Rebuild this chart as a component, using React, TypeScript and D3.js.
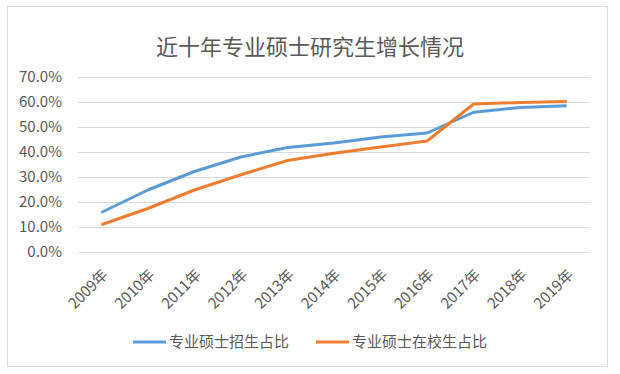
import React, { useEffect, useRef } from 'react';
import * as d3 from 'd3';

const TITLE = '近十年专业硕士研究生增长情况';
const years = ['2009年', '2010年', '2011年', '2012年', '2013年', '2014年', '2015年', '2016年', '2017年', '2018年', '2019年'];
const seriesNames = ['专业硕士招生占比', '专业硕士在校生占比'];
const enrollShare = [15.8, 24.8, 32.2, 38.0, 41.8, 43.6, 46.0, 47.6, 55.9, 57.8, 58.5];
const inSchoolShare = [10.9, 17.4, 24.8, 30.9, 36.6, 39.5, 42.0, 44.4, 59.2, 59.8, 60.2];
const yTicks = [0, 10, 20, 30, 40, 50, 60, 70];

const COLORS = ['#5B9BD5', '#ED7D31'];
const FONT = '"Noto Sans CJK SC", "Noto Sans", sans-serif';
const W = 620;
const H = 374;
const PLOT = { left: 78, right: 590, top: 77, bottom: 252 };

const App = () => {
    const ref = useRef<SVGSVGElement>(null);

    useEffect(() => {
        const svg = d3.select(ref.current);
        svg.selectAll('*').remove();

        // outer chart frame
        svg.append('rect')
            .attr('x', 7.5).attr('y', 6.5)
            .attr('width', 600).attr('height', 360)
            .attr('fill', '#fff')
            .attr('stroke', '#d9d9d9')
            .attr('stroke-width', 1);

        svg.append('text')
            .attr('x', 310).attr('y', 55)
            .attr('text-anchor', 'middle')
            .style('font-family', FONT)
            .style('font-size', '22px')
            .attr('fill', '#595959')
            .text(TITLE);

        const x = d3.scaleBand().domain(years).range([PLOT.left, PLOT.right]);
        const y = d3.scaleLinear().domain([0, 70]).range([PLOT.bottom, PLOT.top]);
        const cx = (d: string) => x(d)! + x.bandwidth() / 2;

        // gridlines + y labels
        const yAxis = d3.axisLeft(y)
            .tickValues(yTicks)
            .tickSize(-(PLOT.right - PLOT.left))
            .tickPadding(16)
            .tickFormat(d => (d as number).toFixed(1) + '%');
        const gy = svg.append('g')
            .attr('transform', `translate(${PLOT.left},0)`)
            .call(yAxis);
        gy.select('.domain').remove();
        gy.selectAll('line').attr('stroke', '#d9d9d9');
        gy.selectAll('text')
            .style('font-family', FONT)
            .style('font-size', '15px')
            .attr('fill', '#595959');

        // x labels, rotated
        const xAxis = d3.axisBottom(x).tickSize(0).tickPadding(0);
        const gx = svg.append('g')
            .attr('transform', `translate(0,${PLOT.bottom})`)
            .call(xAxis);
        gx.select('.domain').remove();
        gx.selectAll('text')
            .style('font-family', FONT)
            .style('font-size', '15px')
            .attr('fill', '#595959')
            .attr('text-anchor', 'end')
            .attr('dy', '0.35em')
            .attr('transform', 'translate(4,20) rotate(-45)');

        const line = d3.line<number>()
            .x((_, i) => cx(years[i]))
            .y(d => y(d));

        [enrollShare, inSchoolShare].forEach((vals, i) => {
            svg.append('path')
                .datum(vals)
                .attr('fill', 'none')
                .attr('stroke', COLORS[i])
                .attr('stroke-width', 3)
                .attr('stroke-linejoin', 'round')
                .attr('d', line);
        });

        // legend
        const legendX = [133, 316];
        seriesNames.forEach((name, i) => {
            const g = svg.append('g').attr('transform', `translate(${legendX[i]},342)`);
            g.append('line')
                .attr('x1', 0).attr('x2', 33)
                .attr('stroke', COLORS[i])
                .attr('stroke-width', 3);
            g.append('text')
                .attr('x', 36).attr('dy', '0.35em')
                .style('font-family', FONT)
                .style('font-size', '15px')
                .attr('fill', '#595959')
                .text(name);
        });
    }, []);

    return (
        <svg ref={ref} width={W} height={H}
            style={{ position: 'absolute', left: 0, top: 0, background: '#fff' }} />
    );
};

export default App;
